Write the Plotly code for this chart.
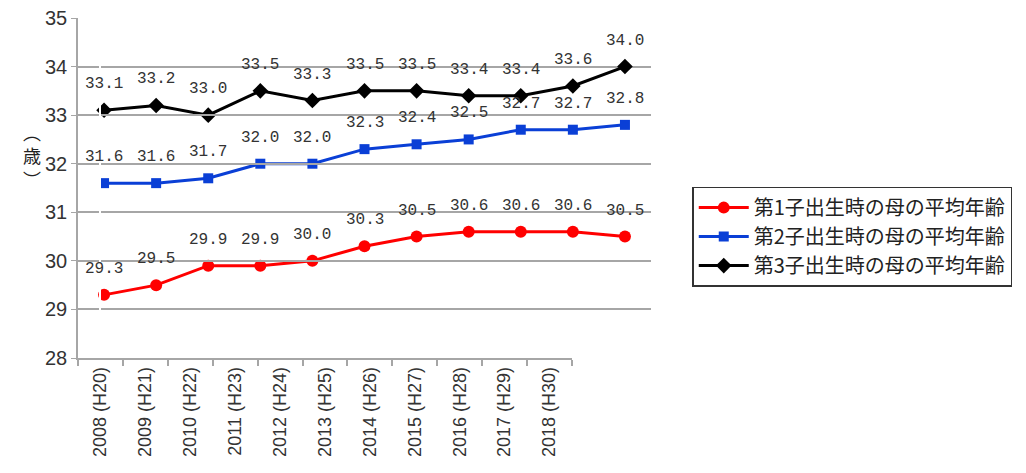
import plotly.graph_objects as go

# 母の出生時平均年齢（出生順位別）
years = ["2008 (H20)", "2009 (H21)", "2010 (H22)", "2011 (H23)", "2012 (H24)",
         "2013 (H25)", "2014 (H26)", "2015 (H27)", "2016 (H28)", "2017 (H29)",
         "2018 (H30)"]
first_child = [29.3, 29.5, 29.9, 29.9, 30.0, 30.3, 30.5, 30.6, 30.6, 30.6, 30.5]
second_child = [31.6, 31.6, 31.7, 32.0, 32.0, 32.3, 32.4, 32.5, 32.7, 32.7, 32.8]
third_child = [33.1, 33.2, 33.0, 33.5, 33.3, 33.5, 33.5, 33.4, 33.4, 33.6, 34.0]

series_names = ["第1子出生時の母の平均年齢", "第2子出生時の母の平均年齢", "第3子出生時の母の平均年齢"]
y_ticks = [28, 29, 30, 31, 32, 33, 34, 35]

GRID = "#a6a6a6"
JP_FONT = "Noto Sans CJK JP"

styles = [
    dict(color="#ff0000", symbol="circle", size=12),
    dict(color="#0a3fd6", symbol="square", size=10),
    dict(color="#000000", symbol="diamond", size=12),
]

fig = go.Figure()

# separate axis that carries the year labels (narrower than the plot, as in the source)
fig.add_trace(go.Scatter(x=[0], y=[28], xaxis="x2", mode="markers",
                         marker=dict(opacity=0), showlegend=False, hoverinfo="skip"))

for name, vals, st in zip(series_names, [first_child, second_child, third_child], styles):
    fig.add_trace(go.Scatter(
        x=years, y=vals, name=name, mode="lines+markers",
        line=dict(color=st["color"], width=3),
        marker=dict(color=st["color"], symbol=st["symbol"], size=st["size"]),
    ))
    # data labels above each point
    for xv, yv in zip(years, vals):
        fig.add_annotation(
            x=xv, y=yv, text=f"{yv:.1f}", showarrow=False, yshift=26,
            font=dict(family="Liberation Mono", size=16, color="#333333"),
        )

# vertical unit label （歳）
fig.add_annotation(
    xref="paper", yref="paper", x=-0.1, y=0.597,
    text="︵<br>歳<br>︶", showarrow=False,
    font=dict(family=JP_FONT, size=18, color="#222222"),
)

fig.update_layout(
    width=1026, height=473,
    margin=dict(l=70, r=383, t=10, b=123),
    paper_bgcolor="white", plot_bgcolor="rgba(0,0,0,0)",
    showlegend=True,
    legend=dict(
        x=1.072, y=0.357, xanchor="left", yanchor="middle",
        bordercolor="#333333", borderwidth=1.5,
        font=dict(family=JP_FONT, size=20, color="#222222"),
        itemwidth=50, tracegroupgap=0,
    ),
    xaxis=dict(
        type="category", range=[-0.5, 10.5], showticklabels=False,
        showgrid=False, showline=False, ticks="", automargin=False,
    ),
    xaxis2=dict(
        domain=[0, 0.862], anchor="y", range=[-0.5, 10.5],
        tickmode="array", tickvals=list(range(len(years))), ticktext=years,
        tickangle=-90, ticks="", showgrid=False, automargin=False,
        showline=True, linecolor=GRID, linewidth=1.5,
        minor=dict(tickmode="array", tickvals=[i - 0.5 for i in range(len(years) + 1)],
                   ticks="outside", ticklen=6, tickcolor=GRID, tickwidth=1.5),
        tickfont=dict(family="Liberation Sans", size=18, color="#333333"),
    ),
    yaxis=dict(
        range=[28, 35], tickvals=y_ticks, ticksuffix=" ",
        ticklabeloverflow="allow", automargin=False,
        showgrid=True, gridcolor=GRID, gridwidth=1.5,
        showline=True, linecolor=GRID, linewidth=1.5,
        ticks="outside", ticklen=5, tickcolor=GRID,
        zeroline=False,
        tickfont=dict(family="Liberation Sans", size=20, color="#333333"),
    ),
)

fig.write_html("out.html")
